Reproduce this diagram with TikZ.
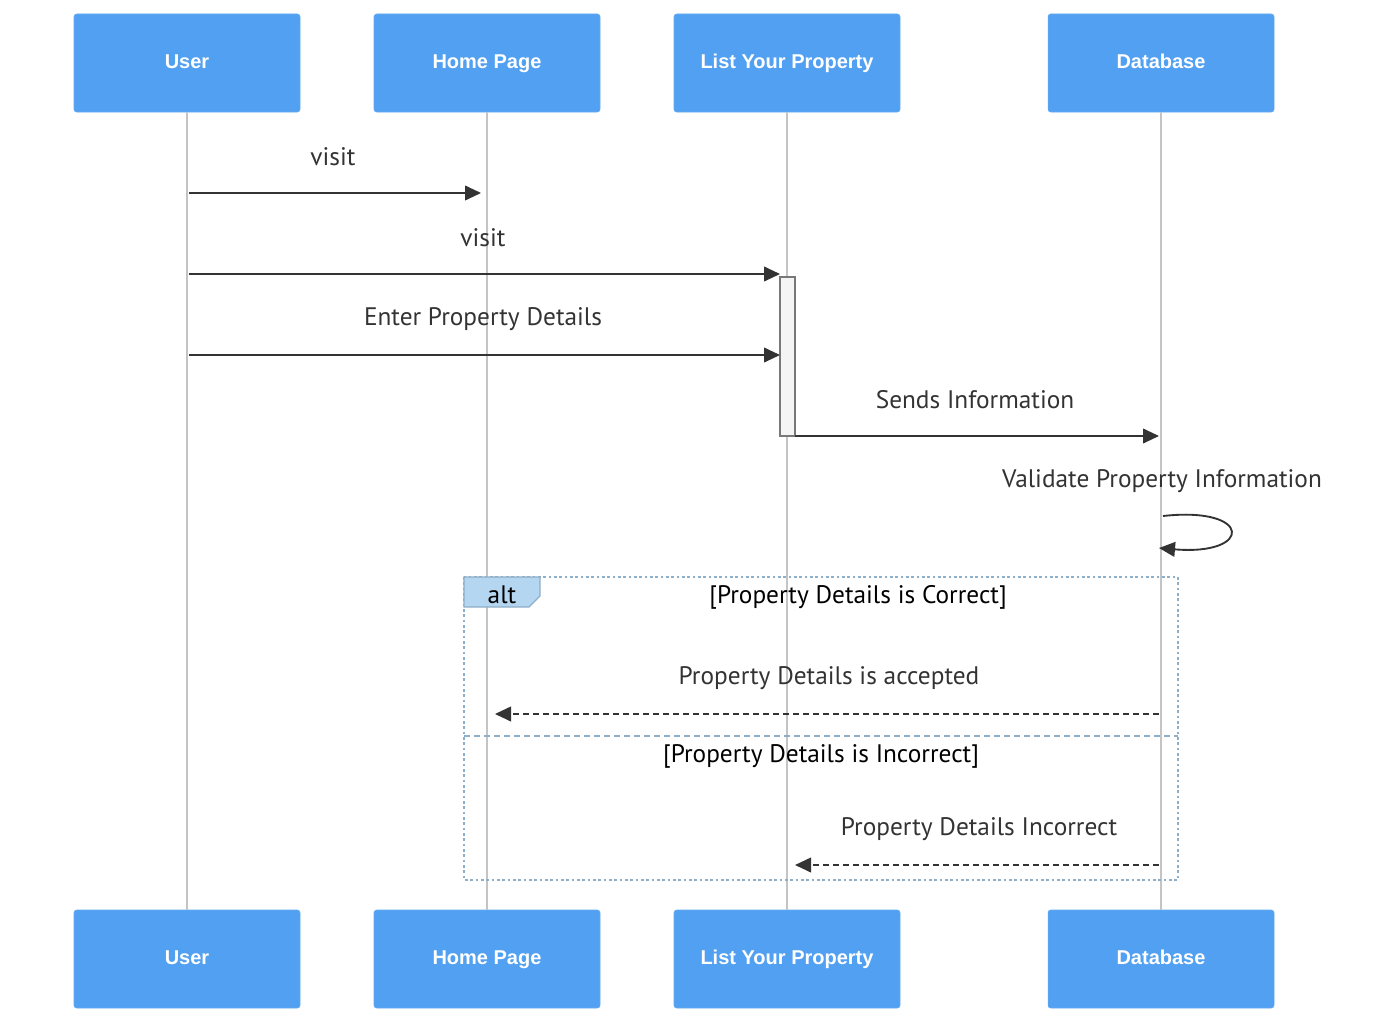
\documentclass[tikz,border=0pt]{standalone}
\usepackage{fontspec}
\setmainfont{PT Sans}
\newfontfamily\actorfont{Liberation Sans}
\usetikzlibrary{arrows.meta}
\usetikzlibrary{positioning}

\definecolor{actorblue}{RGB}{82,160,242}
\definecolor{lifegray}{RGB}{196,196,196}
\definecolor{msgdark}{RGB}{51,51,51}
\definecolor{altline}{RGB}{143,174,200}
\definecolor{altfill}{RGB}{180,214,240}
\definecolor{actfill}{RGB}{244,244,244}
\definecolor{actline}{RGB}{120,120,120}

\tikzset{
  actor/.style={rectangle,rounded corners=2pt,fill=actorblue,draw=actorblue!90!white,
    minimum width=169.5pt,minimum height=73.5pt,inner sep=0pt,text height=11pt,text depth=3pt,
    text=white,font=\actorfont\bfseries\fontsize{15}{17}\selectfont},
  lifeline/.style={lifegray,line width=2.2pt},
  msg/.style={msgdark,line width=1.4pt,-{Triangle[length=12pt,width=11pt]}},
  reply/.style={msg,dash pattern=on 4.5pt off 3pt},
  msgtext/.style={font=\fontsize{19}{21}\selectfont,text=msgdark,inner sep=0pt},
  alttext/.style={font=\fontsize{19}{21}\selectfont,text=black,inner sep=0pt}
}

\begin{document}
\begin{tikzpicture}[x=0.75pt,y=-0.75pt]
\useasboundingbox (0,0) rectangle (1394,1024);

% participants
\node[actor] (user) at (187,63) {User};
\node[actor] (home) at (487,63) {Home Page};
\node[actor] (list) at (787,63) {List Your Property};
\node[actor] (db) at (1161,63) {Database};
\node[actor] (userB) at (187,959) {User};
\node[actor] (homeB) at (487,959) {Home Page};
\node[actor] (listB) at (787,959) {List Your Property};
\node[actor] (dbB) at (1161,959) {Database};

% lifelines
\draw[lifeline] (user.south) -- (userB.north);
\draw[lifeline] (home.south) -- (homeB.north);
\draw[lifeline] (list.south) -- (listB.north);
\draw[lifeline] (db.south) -- (dbB.north);

% activation
\draw[fill=actfill,draw=actline,line width=1.2pt] (780,277) rectangle (795,436);

% message ends
\coordinate (m1a) at (189,193); \coordinate (m1b) at (481,193);
\coordinate (m2a) at (189,274); \coordinate (m2b) at (780,274);
\coordinate (m3a) at (189,355); \coordinate (m3b) at (780,355);
\coordinate (m4a) at (795,436); \coordinate (m4b) at (1159,436);
\coordinate (m5a) at (1163,516); \coordinate (m5b) at (1159,548);
\coordinate (m6a) at (1159,714); \coordinate (m6b) at (495,714);
\coordinate (m7a) at (1159,865); \coordinate (m7b) at (795,865);

% messages
\node[msgtext] (t1) at (333,157) {visit};
\draw[msg] (m1a) -- (m1b);
\node[msgtext] (t2) at (483,238) {visit};
\draw[msg] (m2a) -- (m2b);
\node[msgtext] (t3) at (483,319) {Enter Property Details};
\draw[msg] (m3a) -- (m3b);
\node[msgtext] (t4) at (975,400) {Sends Information};
\draw[msg] (m4a) -- (m4b);
\node[msgtext] (t5) at (1162,481) {Validate Property Information};
\draw[msg] (m5a) .. controls (1253,506) and (1253,556) .. (m5b);

% alt block
\draw[altline,line width=2pt,dotted] (464,577) rectangle (1178,880);
\draw[altline,line width=2pt,dash pattern=on 4.5pt off 3pt] (464,736) -- (1178,736);
\draw[fill=altfill,draw=altline,line width=1pt] (464,577) -- (540,577) -- (540,596) -- (529,607) -- (464,607) -- cycle;
\node[alttext] (alt) at (502,595) {alt};
\node[alttext] (c1) at (858,597) {[Property Details is Correct]};
\node[alttext] (c2) at (821,756) {[Property Details is Incorrect]};

\node[msgtext] (t6) at (829,678) {Property Details is accepted};
\draw[reply] (m6a) -- (m6b);
\node[msgtext] (t7) at (979,829) {Property Details Incorrect};
\draw[reply] (m7a) -- (m7b);

\end{tikzpicture}
\end{document}
